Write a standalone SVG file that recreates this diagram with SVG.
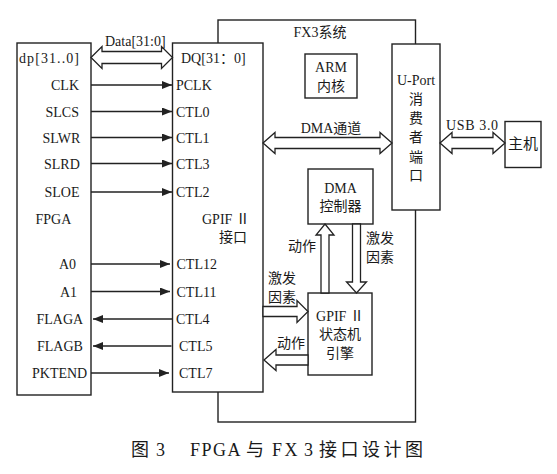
<svg xmlns="http://www.w3.org/2000/svg" width="557" height="474" viewBox="0 0 557 474">
<style>
  text { font-family: "Liberation Serif", "Noto Sans CJK SC", serif; font-size: 14px; fill: #1a1a1a; }
  .c { text-anchor: middle; }
  .box { fill: #fff; stroke: #222; stroke-width: 1.4; }
  .outline { fill: none; stroke: #222; stroke-width: 1.4; }
  .sig { stroke: #222; stroke-width: 1.3; fill: none; }
  .hollow { fill: #fff; stroke: #222; stroke-width: 1.3; stroke-linejoin: miter; }
  .cap { font-size: 18px; }
</style>
<defs>
  <marker id="ah" viewBox="0 0 10 8" refX="10" refY="4" markerWidth="10" markerHeight="8" markerUnits="userSpaceOnUse" orient="auto">
    <path d="M0,0 L10,4 L0,8 Z" fill="#222"/>
  </marker>
</defs>

<g id="fx3-system">
  <rect class="outline" x="218" y="20" width="197.5" height="402"/>
  <text class="c" x="320" y="37">FX3系统</text>
</g>

<g id="fpga">
  <rect class="box" x="17" y="43" width="74" height="352"/>
  <text x="19" y="63" textLength="60" lengthAdjust="spacing">dp[31..0]</text>
  <text x="51" y="90">CLK</text>
  <text x="45.5" y="116.5">SLCS</text>
  <text x="42.5" y="142.5">SLWR</text>
  <text x="44" y="168.5">SLRD</text>
  <text x="44.5" y="197">SLOE</text>
  <text x="35.5" y="224">FPGA</text>
  <text x="59" y="269">A0</text>
  <text x="60" y="296.5">A1</text>
  <text x="36.5" y="324">FLAGA</text>
  <text x="37" y="351">FLAGB</text>
  <text x="32" y="378">PKTEND</text>
</g>

<g id="gpif-interface">
  <rect class="box" x="172.5" y="43" width="90.5" height="349"/>
  <text x="181" y="63">DQ[31：0]</text>
  <text x="176" y="90">PCLK</text>
  <text x="176" y="116.5">CTL0</text>
  <text x="176" y="142.5">CTL1</text>
  <text x="176" y="168.5">CTL3</text>
  <text x="176" y="197">CTL2</text>
  <text x="202" y="224">GPIF Ⅱ</text>
  <text x="219" y="242">接口</text>
  <text x="176.5" y="269">CTL12</text>
  <text x="176.5" y="296.5">CTL11</text>
  <text x="176" y="324">CTL4</text>
  <text x="179" y="351">CTL5</text>
  <text x="179" y="378">CTL7</text>
</g>

<g id="arm-core">
  <rect class="box" x="305" y="54" width="52" height="44"/>
  <text class="c" x="331" y="72">ARM</text>
  <text class="c" x="331" y="91">内核</text>
</g>

<g id="uport">
  <rect class="box" x="392" y="44" width="48" height="166"/>
  <text class="c" x="416" y="85">U-Port</text>
  <text class="c" x="416" y="104">消</text>
  <text class="c" x="416" y="123">费</text>
  <text class="c" x="416" y="142">者</text>
  <text class="c" x="416" y="162">端</text>
  <text class="c" x="416" y="180">口</text>
</g>

<g id="host">
  <rect class="box" x="505" y="121.5" width="36" height="46"/>
  <text class="c" x="523" y="149" style="font-size:15px">主机</text>
</g>

<g id="dma-controller">
  <rect class="box" x="308" y="169" width="65" height="55"/>
  <text class="c" x="340.5" y="193">DMA</text>
  <text class="c" x="340.5" y="211">控制器</text>
</g>

<g id="gpif-engine">
  <rect class="box" x="308" y="293" width="64" height="82"/>
  <text class="c" x="340" y="320.5">GPIF Ⅱ</text>
  <text class="c" x="340" y="339">状态机</text>
  <text class="c" x="340" y="357.5">引擎</text>
</g>

<g id="connectors">
  <line class="sig" x1="91" y1="85" x2="172" y2="85" marker-end="url(#ah)"/>
  <line class="sig" x1="91" y1="111.5" x2="172" y2="111.5" marker-end="url(#ah)"/>
  <line class="sig" x1="91" y1="137.5" x2="172" y2="137.5" marker-end="url(#ah)"/>
  <line class="sig" x1="91" y1="163.5" x2="172" y2="163.5" marker-end="url(#ah)"/>
  <line class="sig" x1="91" y1="192" x2="172" y2="192" marker-end="url(#ah)"/>
  <line class="sig" x1="91" y1="264" x2="170" y2="264" marker-end="url(#ah)"/>
  <line class="sig" x1="91" y1="291.5" x2="170" y2="291.5" marker-end="url(#ah)"/>
  <line class="sig" x1="172" y1="319" x2="93" y2="319" marker-end="url(#ah)"/>
  <line class="sig" x1="171.5" y1="346" x2="93" y2="346" marker-end="url(#ah)"/>
  <line class="sig" x1="91" y1="373" x2="169" y2="373" marker-end="url(#ah)"/>

  <polygon class="hollow" points="91,57.5 102,46.5 102,51.5 161.5,51.5 161.5,46.5 172.5,57.5 161.5,68.5 161.5,63.5 102,63.5 102,68.5"/>
  <text x="105" y="46">Data[31:0]</text>

  <polygon class="hollow" points="263,143 275,132.5 275,137.5 380,137.5 380,132.5 392,143 380,153.5 380,148.5 275,148.5 275,153.5"/>
  <text class="c" x="331" y="133">DMA通道</text>

  <polygon class="hollow" points="440,143 452,132.5 452,137.5 493,137.5 493,132.5 505,143 493,153.5 493,148.5 452,148.5 452,153.5"/>
  <text x="446" y="130" textLength="52" lengthAdjust="spacing">USB 3.0</text>

  <polygon class="hollow" points="325,224 334,235 329,235 329,293 321,293 321,235 316,235"/>
  <text class="c" x="302" y="251">动作</text>

  <polygon class="hollow" points="352.5,224 360.5,224 360.5,282 366.5,282 356.5,293 346.5,282 352.5,282"/>
  <text class="c" x="380" y="243">激发</text>
  <text class="c" x="380" y="262">因素</text>

  <polygon class="hollow" points="263,306.5 297,306.5 297,300.5 308,311.5 297,322.5 297,316.5 263,316.5"/>
  <text class="c" x="282" y="283">激发</text>
  <text class="c" x="282" y="302">因素</text>

  <polygon class="hollow" points="308,355 276,355 276,349.5 264,360 276,370.5 276,365 308,365"/>
  <text class="c" x="291" y="348">动作</text>
</g>

<text class="cap" y="456"><tspan x="131">图</tspan><tspan x="156">3</tspan><tspan x="190 201.5 213 227.5">FPGA</tspan><tspan x="246">与</tspan><tspan x="272 284.5 304">FX3</tspan><tspan x="319 340.5 362 383.5 405">接口设计图</tspan></text>
</svg>
